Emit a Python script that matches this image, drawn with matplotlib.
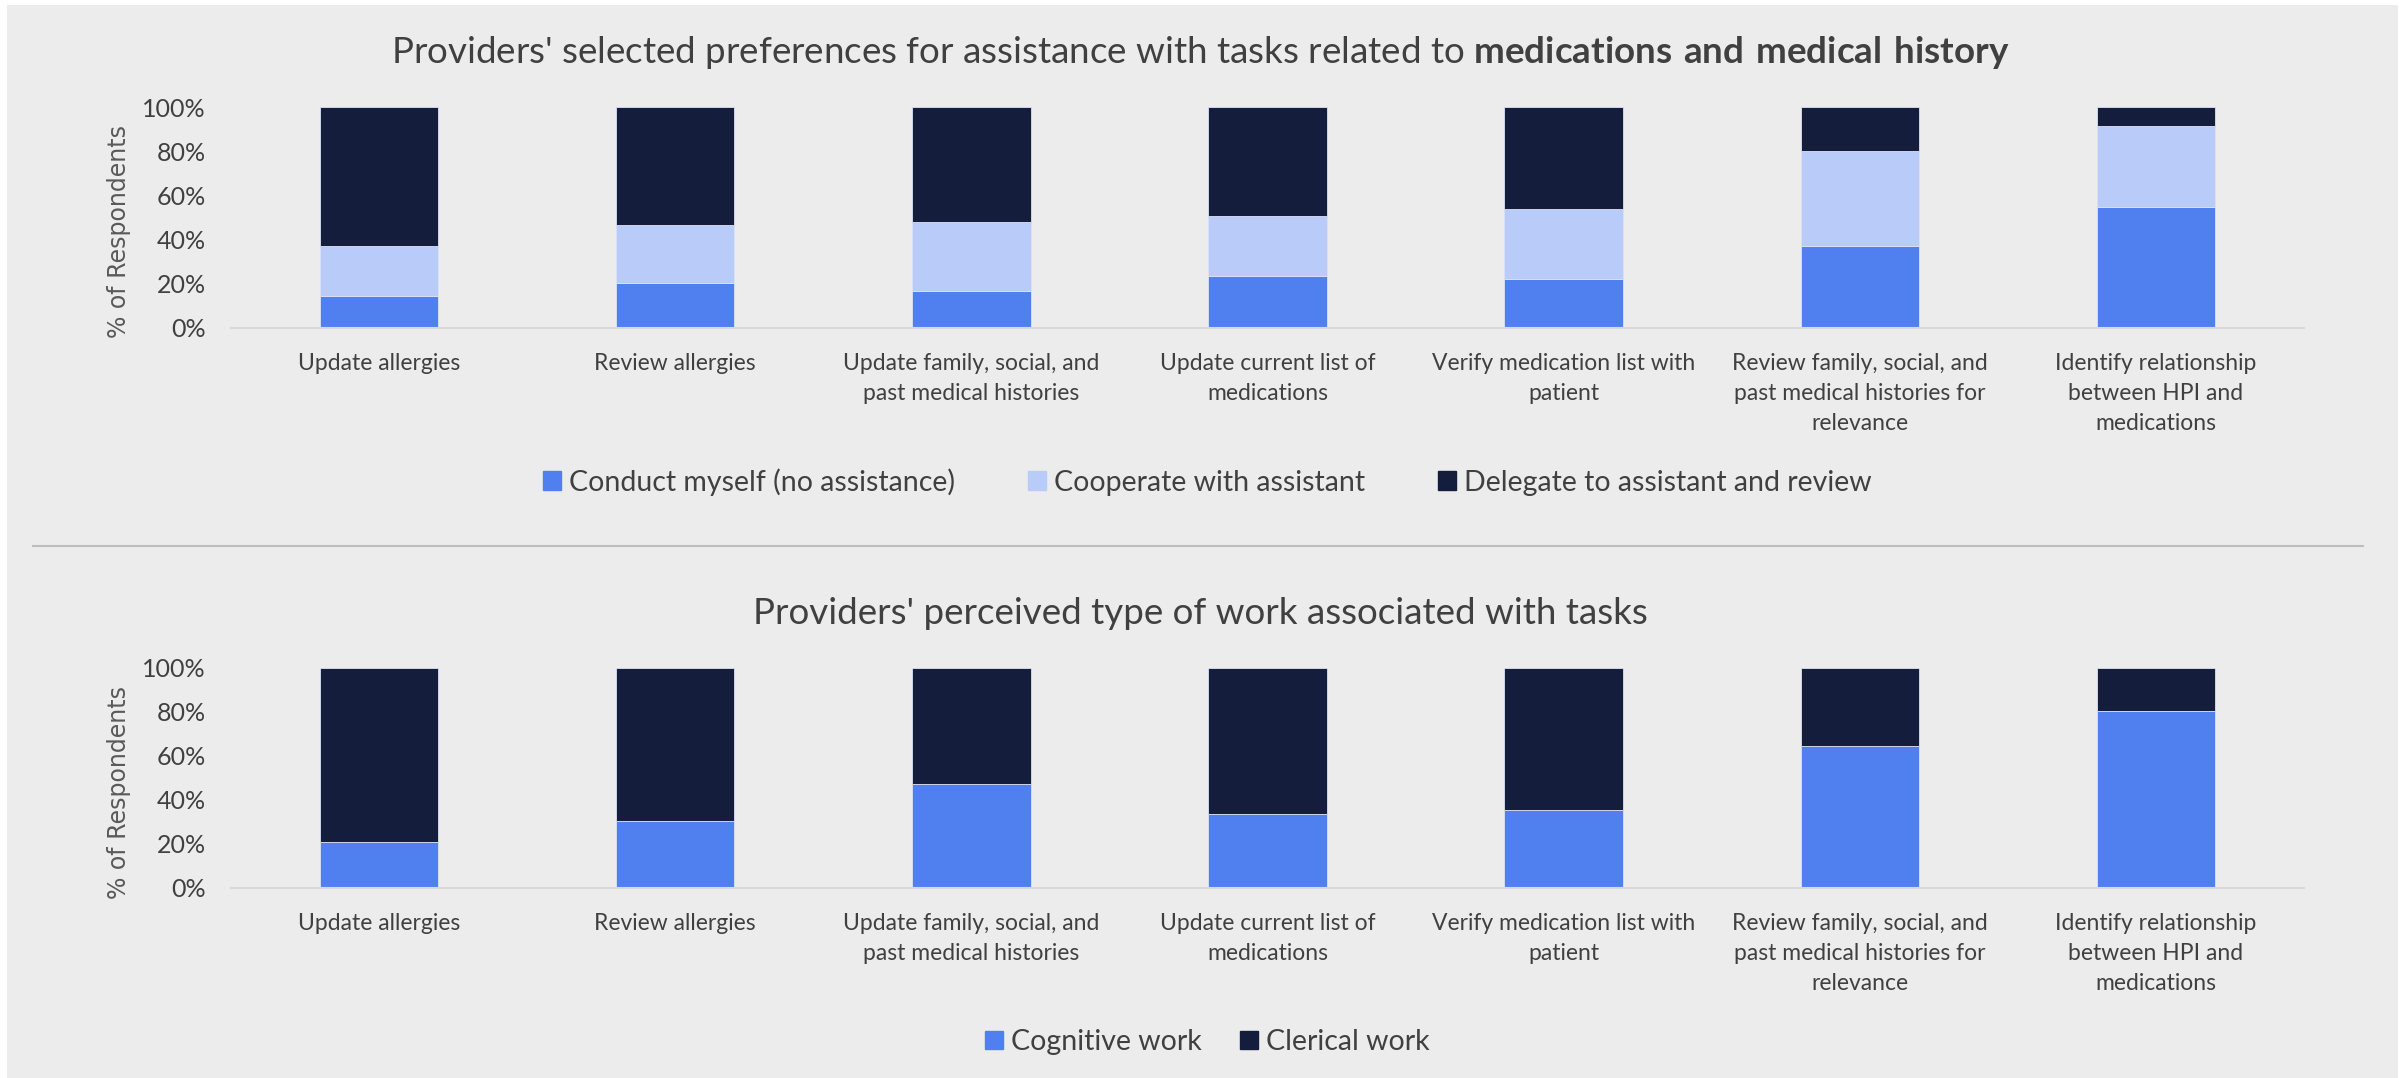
#! /usr/bin/env python

# import modules
import matplotlib
matplotlib.use('Agg')
import matplotlib.pyplot as plt
from matplotlib.patches import Patch, Rectangle
from matplotlib.lines import Line2D
from matplotlib.ticker import PercentFormatter

# Data
# ----
tasks = ['Update allergies',
         'Review allergies',
         'Update family, social, and\npast medical histories',
         'Update current list of\nmedications',
         'Verify medication list with\npatient',
         'Review family, social, and\npast medical histories for\nrelevance',
         'Identify relationship\nbetween HPI and\nmedications']

# preferences for assistance [% of respondents]
conduct = [14.5, 20.4, 16.5, 23.4, 21.9, 36.9, 54.6]
cooperate = [22.7, 26.0, 31.5, 27.1, 32.1, 43.1, 36.8]
delegate = [62.8, 53.6, 52.0, 49.5, 46.0, 20.0, 8.6]

# perceived type of work [% of respondents]
cognitive = [20.6, 30.3, 47.1, 33.4, 35.3, 64.4, 80.2]
clerical = [79.4, 69.7, 52.9, 66.6, 64.7, 35.6, 19.8]

pref_labels = ['Conduct myself (no assistance)', 'Cooperate with assistant',
               'Delegate to assistant and review']
work_labels = ['Cognitive work', 'Clerical work']

# Style
# -----
BLUE = '#5080f0'
LIGHT = '#b9cbf8'
NAVY = '#141e3c'
TEXT = '#404040'
BG = '#ececec'

plt.rcParams['font.family'] = ['Lato', 'DejaVu Sans']
plt.rcParams['mathtext.fontset'] = 'custom'
plt.rcParams['mathtext.rm'] = 'Lato'
plt.rcParams['mathtext.bf'] = 'Lato:bold'

W, H = 2405, 1078
fig = plt.figure(figsize=(W / 100, H / 100), dpi=100)
fig.patch.set_facecolor('white')
fig.patches.append(Rectangle((7 / W, 0), (2398 - 7) / W, (H - 5) / H,
                             transform=fig.transFigure, facecolor=BG,
                             edgecolor='none', zorder=-10))


def stacked(ax, series, colors):
    x = range(len(tasks))
    bottom = [0] * len(tasks)
    for vals, c in zip(series, colors):
        ax.bar(x, vals, width=0.4, bottom=bottom, color=c,
               edgecolor='#dbe2f4', linewidth=0.6)
        bottom = [b + v for b, v in zip(bottom, vals)]
    ax.set_xlim(-0.5, len(tasks) - 0.5)
    ax.set_ylim(0, 100)
    ax.set_yticks([0, 20, 40, 60, 80, 100])
    ax.yaxis.set_major_formatter(PercentFormatter(100, decimals=0))
    ax.set_xticks(list(x))
    ax.set_xticklabels(tasks, linespacing=1.55)
    ax.tick_params(axis='x', length=0, pad=18, labelsize=16.5, labelcolor=TEXT)
    ax.tick_params(axis='y', length=0, pad=18, labelsize=18, labelcolor=TEXT)
    ax.set_facecolor('none')
    for s in ['top', 'right', 'left']:
        ax.spines[s].set_visible(False)
    ax.spines['bottom'].set_color('#d9d9d9')
    ax.spines['bottom'].set_linewidth(1.5)
    return


def legend(handles, labels, ypos, colspace):
    fig.legend(handles, labels, loc='center', bbox_to_anchor=(0.502, ypos),
               ncol=len(labels), frameon=False, fontsize=20.5, labelcolor=TEXT,
               handlelength=0.63, handleheight=0.63, handletextpad=0.28,
               columnspacing=colspace)
    return


# top panel: assistance preferences
ax1 = fig.add_axes([0.0960, 0.6960, 0.862, 0.2045])
stacked(ax1, [conduct, cooperate, delegate], [BLUE, LIGHT, NAVY])
fig.text(0.499, 0.9413,
         "Providers' selected preferences for assistance with tasks related to "
         r"$\bf{medications\ and\ medical\ history}$",
         ha='center', va='baseline', fontsize=26.5, color=TEXT)
fig.text(0.0495, 0.7848, '% of Respondents', rotation=90, ha='center',
         va='center', fontsize=17, color='#595959', family='DejaVu Sans')
legend([Patch(color=c) for c in [BLUE, LIGHT, NAVY]], pref_labels, 0.5529, 2.56)

# separator
fig.add_artist(Line2D([33 / W, 2363 / W], [1 - 546 / H] * 2,
                      color='#bdbdbd', linewidth=1.5))

# bottom panel: type of work
ax2 = fig.add_axes([0.0960, 0.1766, 0.862, 0.2040])
stacked(ax2, [cognitive, clerical], [BLUE, NAVY])
fig.text(0.499, 0.4212, "Providers' perceived type of work associated with tasks",
         ha='center', va='baseline', fontsize=26.5, color=TEXT)
fig.text(0.0495, 0.2653, '% of Respondents', rotation=90, ha='center',
         va='center', fontsize=17, color='#595959', family='DejaVu Sans')
legend([Patch(color=c) for c in [BLUE, NAVY]], work_labels, 0.0334, 1.37)

fig.savefig('out.png', dpi=100, facecolor=fig.get_facecolor())
